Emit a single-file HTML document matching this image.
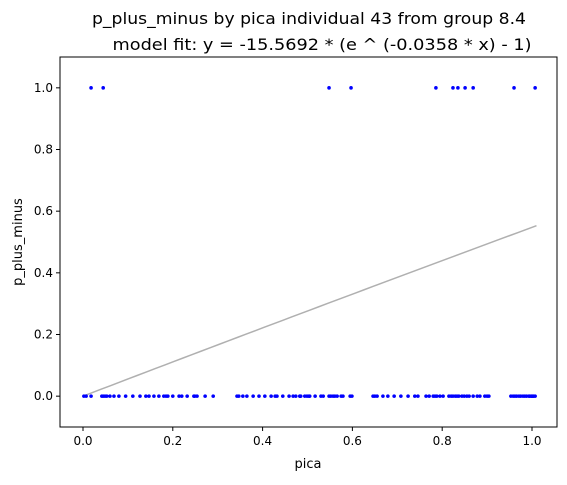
<!DOCTYPE html>
<html><head><meta charset="utf-8"><style>
body{margin:0;background:#fff;font-family:"Liberation Sans","DejaVu Sans",sans-serif}
svg text{font-family:"DejaVu Sans","Liberation Sans",sans-serif;fill:#000}
</style></head><body>
<svg id="chart" width="567" height="480" xmlns="http://www.w3.org/2000/svg">
<text x="309" y="24" font-size="16" text-anchor="middle" textLength="434" lengthAdjust="spacingAndGlyphs">p_plus_minus by pica individual 43 from group 8.4</text>
<text x="322" y="50" font-size="16" text-anchor="middle" textLength="419" lengthAdjust="spacingAndGlyphs">model fit: y = -15.5692 * (e ^ (-0.0358 * x) - 1)</text>
<g id="plot"></g>
<text x="308" y="468" font-size="13" text-anchor="middle">pica</text>
<text transform="translate(22,242) rotate(-90)" font-size="13" text-anchor="middle">p_plus_minus</text>
</svg>
<script>
const zeroX=[0.002,0.007,0.018,0.042,0.045,0.049,0.053,0.060,0.069,0.080,0.095,0.111,0.127,0.140,0.147,0.158,0.169,0.180,0.185,0.189,0.200,0.214,0.220,0.232,0.247,0.249,0.254,0.272,0.290,0.343,0.347,0.356,0.365,0.379,0.392,0.405,0.419,0.428,0.432,0.445,0.459,0.468,0.474,0.483,0.485,0.499,0.503,0.483,0.494,0.505,0.517,0.530,0.535,0.548,0.552,0.557,0.561,0.566,0.575,0.579,0.595,0.599,0.646,0.650,0.655,0.668,0.679,0.693,0.708,0.724,0.739,0.746,0.764,0.771,0.780,0.784,0.788,0.795,0.802,0.815,0.820,0.824,0.829,0.833,0.837,0.844,0.849,0.855,0.860,0.869,0.878,0.884,0.895,0.900,0.904,0.953,0.958,0.962,0.966,0.971,0.975,0.980,0.984,0.988,0.993,0.995,0.998,1.000,1.002,1.004,1.007];
const oneX=[0.018,0.045,0.548,0.597,0.786,0.824,0.835,0.851,0.869,0.960,1.007];
const yTicks=[0.0,0.2,0.4,0.6,0.8,1.0];
const xTicks=[0.0,0.2,0.4,0.6,0.8,1.0];
const fitA=-15.5692, fitB=-0.0358, fitMaxX=1.01;
const L=60,R=557,T=57,B=427,x0=-0.0512,x1=1.0557,y0=-0.1,y1=1.1;
const sx=v=>L+(v-x0)/(x1-x0)*(R-L);
const sy=v=>B-(v-y0)/(y1-y0)*(B-T);
const NS="http://www.w3.org/2000/svg";
const g=document.getElementById('plot');
function mk(t,a){const e=document.createElementNS(NS,t);for(const k in a)e.setAttribute(k,a[k]);g.appendChild(e);return e;}
xTicks.forEach(v=>{
 const t=mk('line',{x1:sx(v),x2:sx(v),y1:B,y2:B+4,stroke:'#000'});
 
 
 const l=mk('text',{x:sx(v),y:B+18,'font-size':'12','text-anchor':'middle'});l.textContent=v.toFixed(1);
 
 
});
yTicks.forEach(v=>{
 const t=mk('line',{x1:L-4,x2:L,y1:sy(v),y2:sy(v),stroke:'#000'});
 
 
 const l=mk('text',{x:L-7,y:sy(v)+4,'font-size':'12','text-anchor':'end'});l.textContent=v.toFixed(1);
 
 
});
let d='';for(let i=0;i<=50;i++){const x=fitMaxX*i/50;const y=fitA*(Math.exp(fitB*x)-1);d+=(i?'L':'M')+sx(x)+','+sy(y);}
const fl=mk('path',{d:d,stroke:'#b0b0b0','stroke-width':'1.5',fill:'none'});


zeroX.forEach(v=>{const c=mk('circle',{cx:sx(v),cy:sy(0),r:1.8,fill:'#0000ff'});
 
 });
oneX.forEach(v=>{const c=mk('circle',{cx:sx(v),cy:sy(1),r:1.8,fill:'#0000ff'});
 
 });
const f=mk('rect',{x:L,y:T,width:R-L,height:B-T,fill:'none',stroke:'#000','stroke-width':'1'});


</script>
</body></html>
